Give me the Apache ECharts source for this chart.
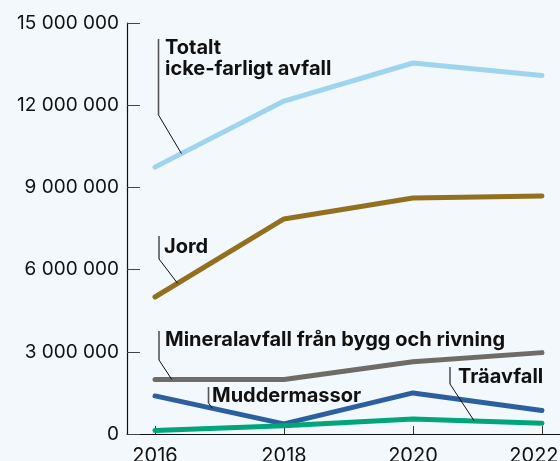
<!DOCTYPE html>
<html><head><meta charset="utf-8">
<script src="https://cdn.jsdelivr.net/npm/echarts@6/dist/echarts.min.js"></script>
<style>html,body{margin:0;padding:0;background:#f3f8fc}#c{width:560px;height:461px}</style>
</head><body><div id="c"></div>
<script>
const years = [2016, 2018, 2020, 2022];
const totalt = [9740000, 12150000, 13540000, 13080000];
const jord = [5000000, 7850000, 8610000, 8690000];
const mineral = [1990000, 1990000, 2640000, 2970000];
const mudder = [1390000, 370000, 1500000, 860000];
const tra = [130000, 300000, 550000, 390000];
const yTicks = [0, 3000000, 6000000, 9000000, 12000000, 15000000];
const names = ['Totalt\nicke-farligt avfall', 'Jord', 'Mineralavfall från bygg och rivning', 'Muddermassor', 'Träavfall'];

const seriesData = [totalt, jord, mineral, mudder, tra];
const colors = ['#9ed4ee', '#93701f', '#6f6c68', '#2b5f9e', '#00a57a'];
const FONT = 'Inter';

const chart = echarts.init(document.getElementById('c'), null, {renderer: 'canvas'});
const fmt = v => String(Math.round(v)).replace(/\B(?=(\d{3})+(?!\d))/g, ' ');
const lbl = {color: '#111', fontSize: 20, fontFamily: FONT};

chart.setOption({
  backgroundColor: '#f3f8fc',
  animation: false,
  grid: {left: 127, right: 0, top: 23, bottom: 27, containLabel: false, outerBoundsMode: 'none'},
  xAxis: {
    type: 'value', min: 2015.566, max: 2022.28,
    splitLine: {show: false},
    axisLine: {show: true, lineStyle: {color: '#111', width: 1.2}},
    axisTick: {show: true, inside: true, length: 8, lineStyle: {color: '#333'}, customValues: years},
    axisLabel: {
      customValues: years,
      formatter: v => v === years[years.length - 1] ? '{r|' + v + '}' : '{n|' + v + '}',
      rich: {n: lbl, r: Object.assign({padding: [0, 16, 0, 0]}, lbl)},
      color: '#111', fontSize: 20, fontFamily: FONT, margin: 12
    }
  },
  yAxis: {
    type: 'value', min: 0, max: 15000000, interval: 3000000,
    splitLine: {show: false},
    axisLine: {show: true, lineStyle: {color: '#111', width: 1.2}},
    axisTick: {show: true, inside: true, length: 13, lineStyle: {color: '#444'}},
    axisLabel: {formatter: v => fmt(v), color: '#111', fontSize: 19, fontFamily: FONT, margin: 8}
  },
  series: seriesData.map((d, i) => ({
    type: 'line', name: names[i],
    data: d.map((v, j) => [years[j], v]),
    symbol: 'none',
    lineStyle: {color: colors[i], width: 5, cap: 'round', join: 'round'},
    z: 2 + i
  }))
});

// Annotations: label text, vertical leader and diagonal to a point on the series
const ann = [
  {s: 0, yr: 2016.41, tx: 165, ty: 37, vx: 158.5, vy1: 39, vy2: 115},
  {s: 1, yr: 2016.35, tx: 164, ty: 236, vx: 159, vy1: 236, vy2: 259},
  {s: 2, yr: 2016.26, tx: 165, ty: 329, vx: 159, vy1: 331, vy2: 360},
  {s: 3, yr: 2016.89, tx: 212, ty: 385, vx: 208.5, vy1: 387, vy2: 403},
  {s: 4, yr: 2020.95, tx: 458, ty: 366, vx: 450, vy1: 367, vy2: 384}
];
function valAt(arr, yr) {
  for (let j = 0; j < years.length - 1; j++) {
    if (yr >= years[j] && yr <= years[j + 1]) {
      const t = (yr - years[j]) / (years[j + 1] - years[j]);
      return arr[j] + t * (arr[j + 1] - arr[j]);
    }
  }
  return arr[arr.length - 1];
}
const g = [];
ann.forEach(a => {
  const p = chart.convertToPixel({gridIndex: 0}, [a.yr, valAt(seriesData[a.s], a.yr)]);
  g.push({type: 'line', shape: {x1: a.vx, y1: a.vy1, x2: a.vx, y2: a.vy2}, style: {stroke: '#555', lineWidth: 1.6}, z: 20});
  g.push({type: 'line', shape: {x1: a.vx, y1: a.vy2, x2: p[0], y2: p[1]}, style: {stroke: '#111', lineWidth: 1}, z: 20});
  g.push({type: 'text', x: a.tx, y: a.ty, style: {text: names[a.s], fill: '#111', font: 'bold 20px ' + FONT, lineHeight: 21, textVerticalAlign: 'top'}, z: 21});
});
chart.setOption({graphic: g});
</script></body></html>
